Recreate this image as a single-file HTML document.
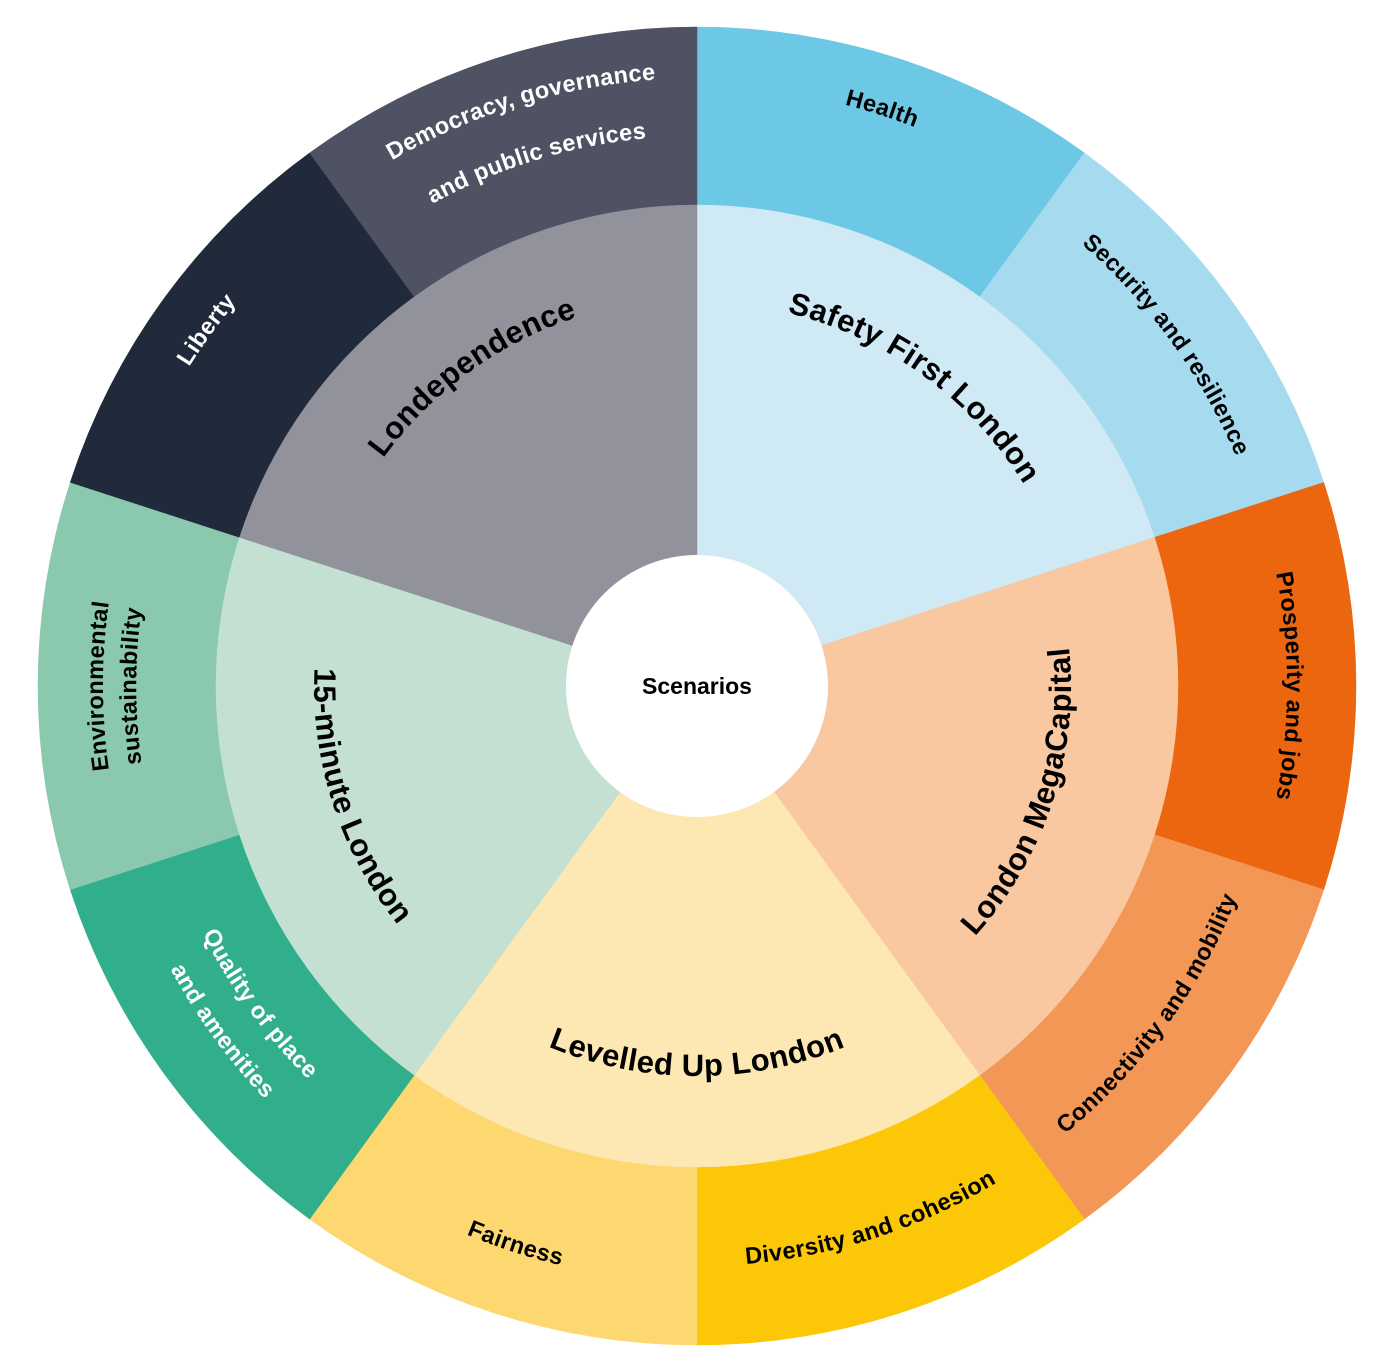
<!DOCTYPE html>
<html><head><meta charset="utf-8"><style>
html,body{margin:0;padding:0;background:#fff;}
svg{display:block;}
text{font-family:"Liberation Sans",sans-serif;font-weight:bold;}
.o{font-size:23.5px;letter-spacing:0.4px;}
.i{font-size:31px;letter-spacing:0.5px;}
</style></head><body>
<svg id="s" width="1389" height="1371" viewBox="0 0 1389 1371" xmlns="http://www.w3.org/2000/svg">
<defs id="d"></defs>
<g id="w"></g>
<circle cx="697" cy="686" r="131" fill="#fff"/>
<text x="697" y="694" text-anchor="middle" font-size="23" fill="#000">Scenarios</text>
<g id="t">
<text class="o" fill="#000"><textPath href="#p_health" startOffset="50%" text-anchor="middle">Health</textPath></text>
<text class="o" fill="#fff"><textPath href="#p_dem1" startOffset="50%" text-anchor="middle">Democracy, governance</textPath></text>
<text class="o" fill="#fff"><textPath href="#p_dem2" startOffset="50%" text-anchor="middle">and public services</textPath></text>
<text class="o" fill="#000"><textPath href="#p_sec" startOffset="50%" text-anchor="middle">Security and resilience</textPath></text>
<text class="o" fill="#000"><textPath href="#p_pro" startOffset="50%" text-anchor="middle">Prosperity and jobs</textPath></text>
<text class="o" fill="#000"><textPath href="#p_con" startOffset="50%" text-anchor="middle">Connectivity and mobility</textPath></text>
<text class="o" fill="#000"><textPath href="#p_div" startOffset="50%" text-anchor="middle">Diversity and cohesion</textPath></text>
<text class="o" fill="#000"><textPath href="#p_fai" startOffset="50%" text-anchor="middle">Fairness</textPath></text>
<text class="o" fill="#fff"><textPath href="#p_q1" startOffset="50%" text-anchor="middle">Quality of place</textPath></text>
<text class="o" fill="#fff"><textPath href="#p_q2" startOffset="50%" text-anchor="middle">and amenities</textPath></text>
<text class="o" fill="#000"><textPath href="#p_e1" startOffset="50%" text-anchor="middle">Environmental</textPath></text>
<text class="o" fill="#000"><textPath href="#p_e2" startOffset="50%" text-anchor="middle">sustainability</textPath></text>
<text class="o" fill="#fff"><textPath href="#p_lib" startOffset="50%" text-anchor="middle">Liberty</textPath></text>
<text class="i" fill="#000"><textPath href="#p_saf" startOffset="50%" text-anchor="middle">Safety First London</textPath></text>
<text class="i" fill="#000"><textPath href="#p_lon" startOffset="50%" text-anchor="middle">Londependence</textPath></text>
<text class="i" fill="#000"><textPath href="#p_meg" startOffset="50%" text-anchor="middle">London MegaCapital</textPath></text>
<text class="i" fill="#000"><textPath href="#p_lev" startOffset="50%" text-anchor="middle">Levelled Up London</textPath></text>
<text class="i" fill="#000"><textPath href="#p_fif" startOffset="50%" text-anchor="middle">15-minute London</textPath></text>
</g>
</svg>
<script>
var cx=697,cy=686,NS="http://www.w3.org/2000/svg";
function pt(r,a){a=a*Math.PI/180;return [cx+r*Math.sin(a),cy-r*Math.cos(a)];}
function wedge(r,a1,a2,c){var p1=pt(r,a1),p2=pt(r,a2);var e=document.createElementNS(NS,"path");
e.setAttribute("d","M"+cx+" "+cy+"L"+p1[0]+" "+p1[1]+"A"+r+" "+r+" 0 0 1 "+p2[0]+" "+p2[1]+"Z");
e.setAttribute("fill",c);e.setAttribute("stroke",c);e.setAttribute("stroke-width","0.5");document.getElementById("w").appendChild(e);}
var oc=["#6DC8E5","#A6DAEE","#EC6610","#F29756","#FBC707","#FDD770","#31AF8C","#8AC9AD","#202A3A","#4F5263"];
for(var i=0;i<10;i++)wedge(659,i*36,(i+1)*36,oc[i]);
var ic=["#CFE9F5","#F9C7A0","#FDE7B2","#C3E0D3","#92929C"];
for(var i=0;i<5;i++)wedge(481,i*72,(i+1)*72,ic[i]);
function arc(id,r,a,cw){var p1,p2,d;
if(cw){p1=pt(r,a-90);p2=pt(r,a+90);d="M"+p1[0]+" "+p1[1]+"A"+r+" "+r+" 0 0 1 "+p2[0]+" "+p2[1];}
else{p1=pt(r,a+90);p2=pt(r,a-90);d="M"+p1[0]+" "+p1[1]+"A"+r+" "+r+" 0 0 0 "+p2[0]+" "+p2[1];}
var e=document.createElementNS(NS,"path");e.setAttribute("id",id);e.setAttribute("d",d);e.setAttribute("fill","none");
document.getElementById("d").appendChild(e);}
arc("p_health",600,17.8,1);
arc("p_dem1",608,-17,1);
arc("p_dem2",550,-17,1);
arc("p_sec",586,54,1);
arc("p_pro",590,90,1);
arc("p_con",580,126,0);
arc("p_div",580,162,0);
arc("p_fai",595,198,0);
arc("p_q1",553,234,0);
arc("p_q2",598,234,0);
arc("p_e1",594,270,1);
arc("p_e2",561,270,1);
arc("p_lib",600,306,1);
arc("p_saf",384,36,1);
arc("p_lon",388,324,1);
arc("p_meg",374,108,0);
arc("p_lev",390,180,0);
arc("p_fif",383,252,0);
</script>
</body></html>
